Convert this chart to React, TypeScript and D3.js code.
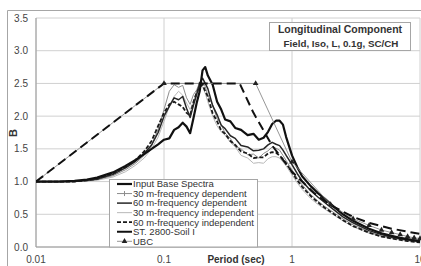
import * as d3 from 'd3';
import React from 'react';

// periods (sec) for the response spectra
const periods = [
  0.01, 0.015, 0.02, 0.025, 0.03, 0.04, 0.05, 0.06, 0.07, 0.08, 0.09, 0.1,
  0.11, 0.12, 0.13, 0.14, 0.15, 0.16, 0.17, 0.18, 0.19, 0.2, 0.21, 0.22, 0.24,
  0.26, 0.28, 0.3, 0.33, 0.36, 0.4, 0.45, 0.5, 0.55, 0.6, 0.65, 0.7, 0.75, 0.8,
  0.85, 0.9, 1.0, 1.1, 1.2, 1.4, 1.6, 1.8, 2.0, 2.5, 3, 4, 5, 6, 7, 8, 10,
];

const inputBase = [
  1.0, 1.0, 1.01, 1.03, 1.06, 1.14, 1.24, 1.33, 1.42, 1.5, 1.57, 1.64, 1.66,
  1.79, 1.83, 1.9, 1.84, 1.74, 1.97, 2.2, 2.38, 2.7, 2.75, 2.62, 2.48, 2.22,
  2.1, 1.95, 1.92, 1.82, 1.79, 1.71, 1.73, 1.64, 1.67, 1.76, 1.88, 1.93, 1.93,
  1.87, 1.68, 1.4, 1.22, 1.08, 0.93, 0.82, 0.74, 0.66, 0.5, 0.4, 0.28, 0.21,
  0.17, 0.14, 0.12, 0.09,
];

const dep30 = [
  1.0, 1.0, 1.0, 1.01, 1.03, 1.09, 1.18, 1.28, 1.4, 1.55, 1.8, 2.1, 2.38, 2.48,
  2.44, 2.47, 2.28, 2.18, 2.33, 2.4, 2.52, 2.5, 2.45, 2.32, 2.17, 1.96, 1.87,
  1.74, 1.66, 1.54, 1.5, 1.41, 1.42, 1.36, 1.43, 1.47, 1.53, 1.51, 1.48, 1.4,
  1.32, 1.18, 1.05, 0.95, 0.8, 0.7, 0.62, 0.56, 0.43, 0.34, 0.23, 0.17, 0.14,
  0.12, 0.1, 0.08,
];

const dep60 = [
  1.0, 1.0, 1.0, 1.02, 1.04, 1.11, 1.21, 1.31, 1.43, 1.56, 1.75, 2.0, 2.15,
  2.28, 2.25, 2.3, 2.12, 1.98, 2.17, 2.33, 2.5, 2.58, 2.5, 2.42, 2.16, 2.02,
  1.86, 1.81, 1.7, 1.66, 1.55, 1.53, 1.47, 1.48, 1.5, 1.56, 1.6, 1.57, 1.55,
  1.48, 1.4, 1.26, 1.12, 1.01, 0.86, 0.76, 0.68, 0.61, 0.46, 0.37, 0.25, 0.19,
  0.15, 0.13, 0.11, 0.085,
];

const indep30 = [
  1.0, 1.0, 1.0, 1.01, 1.02, 1.07, 1.15, 1.25, 1.36, 1.5, 1.68, 1.92, 2.15, 2.3,
  2.38, 2.32, 2.2, 2.1, 2.22, 2.38, 2.46, 2.45, 2.35, 2.22, 2.0, 1.85, 1.76,
  1.71, 1.6, 1.53, 1.4, 1.36, 1.28, 1.29, 1.28, 1.35, 1.38, 1.38, 1.36, 1.3,
  1.24, 1.1, 0.98, 0.88, 0.74, 0.65, 0.58, 0.52, 0.4, 0.31, 0.21, 0.16, 0.13,
  0.11, 0.09, 0.07,
];

const indep60 = [
  1.0, 1.0, 1.0, 1.02, 1.04, 1.12, 1.22, 1.33, 1.46, 1.62, 1.85, 2.05, 2.18,
  2.22, 2.18, 2.14, 2.05, 2.01, 2.22, 2.36, 2.45, 2.48, 2.38, 2.3, 2.04, 1.92,
  1.78, 1.73, 1.62, 1.56, 1.46, 1.43, 1.36, 1.37, 1.37, 1.43, 1.45, 1.44, 1.4,
  1.34, 1.28, 1.14, 1.02, 0.92, 0.78, 0.68, 0.6, 0.54, 0.41, 0.32, 0.22, 0.16,
  0.13, 0.11, 0.09, 0.07,
];

// design spectra
const stPeriods = [0.01, 0.1, 0.39, 0.5, 0.7, 1, 1.5, 2, 3, 4, 6, 10];
const stValues = [1, 2.5, 2.5, 2.05, 1.55, 1.15, 0.82, 0.64, 0.46, 0.37, 0.28, 0.2];

const ubcPeriods = [0.01, 0.1, 0.52, 1, 2, 3, 4, 5, 6, 7, 8, 9, 10];
const ubcValues = [1.0, 2.5, 2.5, 1.3, 0.65, 0.43, 0.33, 0.26, 0.22, 0.19, 0.16, 0.14, 0.13];

const yTicks = [0, 0.5, 1, 1.5, 2, 2.5, 3, 3.5];
const xTicks = [0.01, 0.1, 1, 10];
const xTickLabels = ['0.01', '0.1', '1', '10'];

const legendLabels = [
  'Input Base Spectra',
  '30 m-frequency dependent',
  '60 m-frequency dependent',
  '30 m-frequency independent',
  '60 m-frequency independent',
  'ST. 2800-Soil I',
  'UBC',
];

const font = "'Liberation Sans', Arial, sans-serif";

export default function App() {
  const width = 421,
    height = 266;
  const x = d3.scaleLog().domain([0.01, 10]).range([36, 420]);
  const y = d3.scaleLinear().domain([0, 3.5]).range([247, 18]);

  const line = (xs: number[], ys: number[]) =>
    d3
      .line<number>()
      .x((_, i) => x(xs[i]))
      .y((d) => y(d))(ys) as string;

  // drawing order and styles for each series
  const series = [
    { vals: indep30, xs: periods, stroke: '#b8b8b8', w: 1, dash: undefined },
    { vals: dep30, xs: periods, stroke: '#8c8c8c', w: 1, dash: undefined },
    { vals: indep60, xs: periods, stroke: '#1a1a1a', w: 1.8, dash: '4,2' },
    { vals: dep60, xs: periods, stroke: '#262626', w: 1.5, dash: undefined },
    { vals: inputBase, xs: periods, stroke: '#111', w: 2.2, dash: undefined },
    { vals: ubcValues, xs: ubcPeriods, stroke: '#8a8a8a', w: 0.9, dash: undefined },
    { vals: stValues, xs: stPeriods, stroke: '#111', w: 2, dash: '9,5' },
  ];

  const legendStyles = [
    { stroke: '#111', w: 2.2, dash: undefined },
    { stroke: '#8c8c8c', w: 1, dash: undefined },
    { stroke: '#262626', w: 1.5, dash: undefined },
    { stroke: '#b8b8b8', w: 1, dash: undefined },
    { stroke: '#1a1a1a', w: 1.8, dash: '4,2' },
    { stroke: '#111', w: 2, dash: undefined },
    { stroke: '#8a8a8a', w: 0.9, dash: undefined },
  ];

  const tri = d3.symbol(d3.symbolTriangle, 14)() as string;

  return (
    <div style={{ position: 'fixed', left: 0, top: 0 }}>
      <svg width={width} height={height} style={{ display: 'block', fontFamily: font }}>
        <rect x={0} y={0} width={width} height={height} fill="#fff" />
        {/* outer chart border */}
        <path d={`M7.5,${height} V10.5 H${width}`} fill="none" stroke="#a6a6a6" />
        <defs>
          <clipPath id="plotClip">
            <rect x={36} y={10} width={385} height={240} />
          </clipPath>
        </defs>
        {/* gridlines */}
        {yTicks.map((t) => (
          <line key={'gy' + t} x1={36} x2={420} y1={y(t)} y2={y(t)} stroke="#d0d0d0" />
        ))}
        {xTicks.map((t) => (
          <line key={'gx' + t} x1={x(t)} x2={x(t)} y1={y(3.5)} y2={y(0)} stroke="#d0d0d0" />
        ))}
        <line x1={36} x2={36} y1={y(3.5)} y2={y(0)} stroke="#9a9a9a" />
        <line x1={36} x2={420} y1={y(0)} y2={y(0)} stroke="#9a9a9a" />

        {/* tick labels */}
        {yTicks.map((t) => (
          <text key={'ty' + t} x={28} y={y(t)} dy="0.35em" textAnchor="end" fontSize={10} fill="#444">
            {t.toFixed(1)}
          </text>
        ))}
        {xTicks.map((t, i) => (
          <text key={'tx' + t} x={x(t)} y={263} textAnchor="middle" fontSize={10} fill="#444">
            {xTickLabels[i]}
          </text>
        ))}
        <text x={236} y={263} textAnchor="middle" fontSize={10} fontWeight="bold" fill="#333">
          Period (sec)
        </text>
        <text
          transform={`translate(17,133) rotate(-90)`}
          textAnchor="middle"
          fontSize={11}
          fontWeight="bold"
          fill="#333"
        >
          B
        </text>

        {/* series */}
        <g clipPath="url(#plotClip)">
          {series.map((s, i) => (
            <path
              key={'s' + i}
              d={line(s.xs, s.vals)}
              fill="none"
              stroke={s.stroke}
              strokeWidth={s.w}
              strokeDasharray={s.dash}
              strokeLinejoin="round"
            />
          ))}
          {ubcPeriods.slice(1).map((p, i) => (
            <path
              key={'u' + p}
              d={tri}
              transform={`translate(${x(p)},${y(ubcValues[i + 1])})`}
              fill="#222"
            />
          ))}
        </g>

        {/* title box */}
        <rect x={269.5} y={22.5} width={141} height={28} fill="#fff" stroke="#a6a6a6" />
        <text x={340} y={33} textAnchor="middle" fontSize={10.5} fontWeight="bold" fill="#333">
          Longitudinal Component
        </text>
        <text x={341} y={46.5} textAnchor="middle" fontSize={9.8} fontWeight="bold" fill="#333">
          Field, Iso, L, 0.1g, SC/CH
        </text>

        {/* legend */}
        <rect x={109.5} y={179.5} width={148} height={67.5} fill="#fff" stroke="#a6a6a6" />
        {legendLabels.map((lab, i) => {
          const ly = 184 + i * 9.55;
          const st = legendStyles[i];
          return (
            <g key={'l' + i}>
              <line
                x1={117}
                x2={132}
                y1={ly}
                y2={ly}
                stroke={st.stroke}
                strokeWidth={st.w}
                strokeDasharray={st.dash}
              />
              {i === 1 && (
                <path
                  d={`M124.5,${ly - 2.5} V${ly + 2.5}`}
                  stroke="#8c8c8c"
                  strokeWidth={1}
                />
              )}
              {i === 6 && <path d={tri} transform={`translate(124.5,${ly})`} fill="#222" />}
              <text x={133} y={ly} dy="0.35em" fontSize={9.5} fill="#333">
                {lab}
              </text>
            </g>
          );
        })}
      </svg>
    </div>
  );
}
